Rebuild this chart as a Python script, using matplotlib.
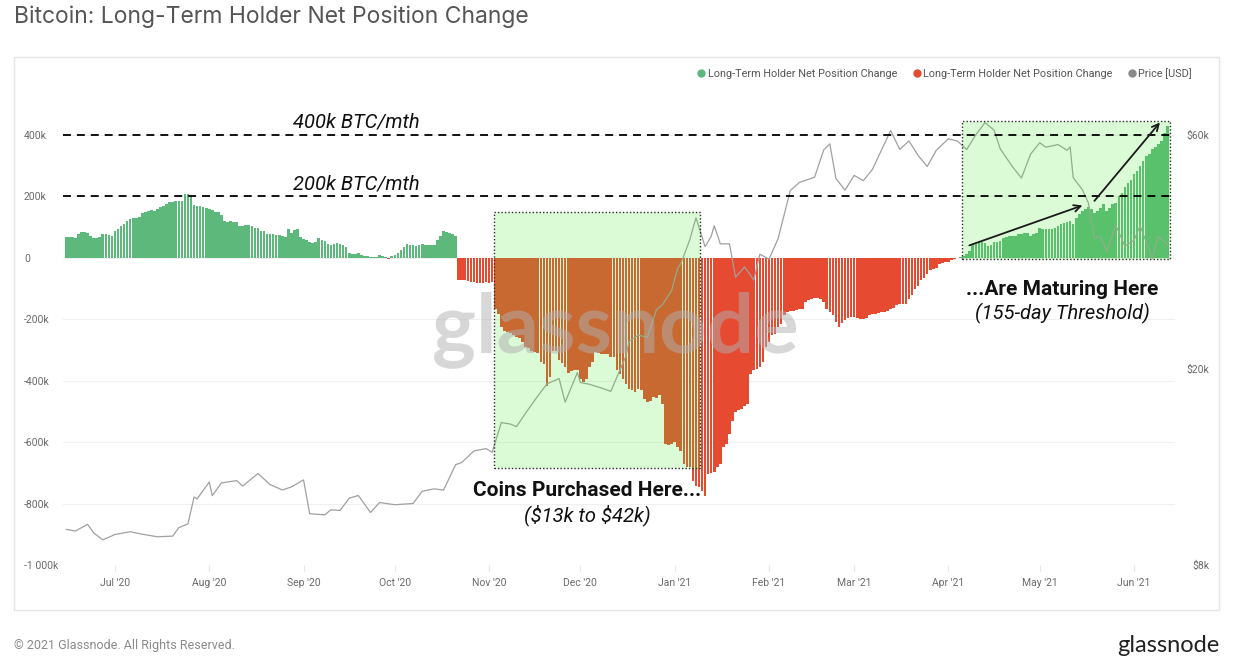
import datetime as dt
import math
import matplotlib
matplotlib.use('Agg')
import matplotlib.pyplot as plt
import matplotlib.dates as mdates
from matplotlib.patches import Rectangle
from matplotlib.lines import Line2D
from matplotlib.ticker import FixedLocator, NullLocator

# daily LTH net position change (k BTC), starting 2020-06-15
start = dt.datetime(2020, 6, 15)
lth_change = [
    67, 67, 66, 64, 76, 82, 82, 80, 72, 63,
    64, 66, 76, 76, 74, 72, 86, 94, 104, 110,
    120, 126, 128, 130, 134, 145, 148, 152, 154, 152,
    158, 166, 168, 176, 180, 182, 184, 186, 186, 206,
    206, 200, 170, 168, 168, 166, 162, 158, 154, 150,
    148, 140, 118, 117, 118, 116, 117, 104, 102, 106,
    106, 104, 98, 96, 88, 86, 78, 76, 78, 74,
    74, 70, 68, 92, 80, 90, 94, 66, 62, 58,
    50, 48, 50, 64, 56, 54, 44, 42, 46, 48,
    46, 40, 36, 14, 12, 12, 14, 10, 6, 5,
    3, 1, 2, 8, 6, 2, -5, 6, 10, 14,
    26, 36, 44, 42, 40, 38, 42, 46, 42, 40,
    40, 41, 56, 72, 86, 84, 80, 76, 72,
    # Oct 22 ->
    -72, -74, -74, -76, -78, -80, -82, -83, -82, -80, -82, -80,
    # Nov 3 ->
    -166, -182, -226, -237, -242, -245, -253, -258, -261, -275,
    -291, -293, -302, -307, -311, -340, -345, -416, -389, -302,
    -304, -334, -343, -356, -376, -369, -365, -365, -394, -405,
    -394, -356, -340, -307, -311, -313, -313, -315, -324, -324,
    -367, -378, -394, -410, -427, -432, -438, -427, -432, -459,
    -470, -465, -454, -456, -448, -476, -606, -611, -606, -600,
    -617, -628, -671, -682, -682, -725, -742, -747,
    # Jan 10 ->
    -758, -775, -704, -701, -698, -682, -671, -617, -606, -573,
    -530, -503, -495, -492, -481, -476, -378, -367, -362, -356,
    -340, -291, -275, -253, -248, -226, -215, -188, -177, -174,
    -172, -169, -166, -166, -144, -137, -134, -130, -130, -134,
    -144, -166, -177, -188, -210, -224, -212, -204, -195, -193,
    -193, -195, -199, -199, -195, -188, -182, -182, -180, -177,
    -177, -172, -166, -163, -155, -152, -152, -150, -134, -123,
    -101, -93, -74, -65, -52, -39, -36, -33, -22, -17,
    -15, -13, -9, -5, -2,
    # Apr 5 ->
    2, 5, 12, 22, 40, 46, 54, 50, 48, 38,
    42, 50, 52, 54, 65, 68, 71, 71, 72, 78,
    78, 81, 80, 71, 76, 80, 98, 94, 94, 92,
    94, 98, 102, 109, 114, 116, 119, 109, 130, 141,
    152, 157, 165, 160, 147, 152, 163, 174, 152, 163,
    176, 178, 201, 212, 230, 244, 252, 271, 282, 299,
    315, 330, 337, 353, 360, 369, 380, 407, 429,
]

price_dates = [
    '2020-06-15', '2020-06-18', '2020-06-22', '2020-06-24', '2020-06-27', '2020-07-01',
    '2020-07-06', '2020-07-10', '2020-07-15', '2020-07-20', '2020-07-22', '2020-07-25',
    '2020-07-27', '2020-07-28', '2020-08-01', '2020-08-02', '2020-08-05', '2020-08-10',
    '2020-08-12', '2020-08-17', '2020-08-21', '2020-08-25', '2020-08-28', '2020-09-01',
    '2020-09-03', '2020-09-05', '2020-09-08', '2020-09-10', '2020-09-13', '2020-09-16',
    '2020-09-19', '2020-09-23', '2020-09-26', '2020-10-01', '2020-10-07', '2020-10-10',
    '2020-10-14', '2020-10-17', '2020-10-21', '2020-10-23', '2020-10-27', '2020-10-31',
    '2020-11-02', '2020-11-05', '2020-11-08', '2020-11-10', '2020-11-13', '2020-11-17',
    '2020-11-20', '2020-11-24', '2020-11-26', '2020-11-30', '2020-12-01', '2020-12-04',
    '2020-12-08', '2020-12-11', '2020-12-16', '2020-12-17', '2020-12-20', '2020-12-23',
    '2020-12-26', '2020-12-28', '2020-12-31', '2021-01-02', '2021-01-03', '2021-01-06',
    '2021-01-08', '2021-01-11', '2021-01-13', '2021-01-14', '2021-01-16', '2021-01-19',
    '2021-01-21', '2021-01-24', '2021-01-27', '2021-01-29', '2021-02-01', '2021-02-04',
    '2021-02-08', '2021-02-11', '2021-02-14', '2021-02-16', '2021-02-19', '2021-02-21',
    '2021-02-23', '2021-02-26', '2021-03-01', '2021-03-04', '2021-03-07', '2021-03-10',
    '2021-03-13', '2021-03-16', '2021-03-19', '2021-03-22', '2021-03-25', '2021-03-28',
    '2021-04-01', '2021-04-04', '2021-04-07', '2021-04-10', '2021-04-13', '2021-04-16',
    '2021-04-18', '2021-04-22', '2021-04-25', '2021-04-28', '2021-05-01', '2021-05-03',
    '2021-05-07', '2021-05-10', '2021-05-11', '2021-05-12', '2021-05-15', '2021-05-17',
    '2021-05-19', '2021-05-21', '2021-05-23', '2021-05-26', '2021-05-29', '2021-06-01',
    '2021-06-03', '2021-06-07', '2021-06-09', '2021-06-12',
]
price_usd = [
    9450, 9380, 9680, 9300, 9000, 9230,
    9350, 9240, 9130, 9160, 9530, 9700,
    11000, 10900, 11800, 11070, 11750, 11880,
    11580, 12280, 11660, 11370, 11530, 11920,
    10170, 10150, 10120, 10360, 10330, 10940,
    11080, 10230, 10720, 10610, 10670, 11300,
    11430, 11360, 12800, 12930, 13650, 13800,
    13560, 15590, 15480, 15290, 16300, 17650,
    18680, 19160, 17150, 19700, 18800, 18650,
    18320, 18040, 21300, 22800, 23480, 23240,
    26440, 27080, 28950, 32130, 32780, 36760,
    40670, 35520, 37300, 39190, 36000, 36000,
    30800, 32300, 30400, 34300, 33500, 36900,
    46200, 48000, 48700, 49200, 55900, 57500,
    48900, 46300, 49600, 48400, 51000, 55900,
    61200, 56000, 58300, 54500, 51700, 55800,
    58900, 58200, 56000, 60000, 63500, 61300,
    56200, 51700, 49000, 54800, 57800, 56600,
    57300, 55800, 56700, 49100, 46400, 43600,
    37000, 37300, 34700, 39300, 35600, 36600,
    39200, 33600, 37300, 35800,
]

left_ticks = [400, 200, 0, -200, -400, -600, -800, -1000]
left_labels = ['400k', '200k', '0', '-200k', '-400k', '-600k', '-800k', '-1 000k']
right_ticks = [8000, 20000, 60000]
right_labels = ['$8k', '$20k', '$60k']
levels = [400, 200]
level_labels = ['400k BTC/mth', '200k BTC/mth']

GREEN = '#5cb97b'
RED = '#e64a31'
GREY = '#a0a0a0'
TXT = '#6b6b6b'

plt.rcParams['font.family'] = ['Roboto', 'DejaVu Sans']

fig = plt.figure(figsize=(12.39, 6.72), dpi=100)
fig.patch.set_facecolor('white')

# chart panel border
fig.add_artist(Rectangle((0.0113, 0.0923), 0.9726, 0.8229, transform=fig.transFigure,
                         fill=False, edgecolor='#e4e4e4', lw=1.0))

ax = fig.add_axes([0.0508, 0.1592, 0.8975, 0.686])
ax2 = ax.twinx()
ax.set_zorder(ax2.get_zorder() - 1)
ax2.patch.set_visible(False)

d0 = mdates.date2num(start)
xs = [d0 + i for i in range(len(lth_change))]
cols = [GREEN if v >= 0 else RED for v in lth_change]
ax.bar(xs, lth_change, width=0.86, color=cols, linewidth=0, zorder=2)

ax.set_ylim(-1000, 500)
ax.set_xlim(d0 - 1.1, d0 + 364.45)
ax.yaxis.set_major_locator(FixedLocator(left_ticks))
ax.set_yticklabels(left_labels)
for lab in ax.get_yticklabels():
    lab.set_horizontalalignment('left')
ax.tick_params(axis='y', length=0, pad=28, labelsize=7.5, labelcolor=TXT)
ax.grid(axis='y', color='#f0f0f0', lw=0.8, zorder=0)
ax.set_axisbelow(True)

ax.xaxis.set_major_locator(mdates.MonthLocator())
ax.xaxis.set_major_formatter(mdates.DateFormatter("%b '%y"))
ax.tick_params(axis='x', length=4, color='#e6e6e6', pad=5, labelsize=7.5, labelcolor=TXT)
for sp in ax.spines.values():
    sp.set_visible(False)
for sp in ax2.spines.values():
    sp.set_visible(False)

# price on log axis (8k aligned with -1000k, 60k with 400k)
lo, hi = math.log10(8000), math.log10(60000)
top = 10 ** (lo + (hi - lo) * 1500 / 1400)
ax2.set_yscale('log')
ax2.set_ylim(8000, top)
ax2.yaxis.set_major_locator(FixedLocator(right_ticks))
ax2.yaxis.set_minor_locator(NullLocator())
ax2.set_yticklabels(right_labels)
for lab in ax2.get_yticklabels():
    lab.set_horizontalalignment('right')
ax2.tick_params(axis='y', length=0, pad=25, labelsize=7.5, labelcolor=TXT)
pdates = [mdates.date2num(dt.datetime.strptime(s, '%Y-%m-%d')) for s in price_dates]
ax2.plot(pdates, price_usd, color=GREY, lw=0.9, zorder=3)


def tr(v):
    # left-axis value (k BTC) -> price-axis coordinate
    return 10 ** (lo + (hi - lo) * (v + 1000) / 1400)


# highlight boxes (drawn on the price axis so they cover bars and price)
box_fc = (0.3, 0.9, 0.2, 0.2)


def add_box(x0, x1, v0, v1):
    r = Rectangle((x0, tr(v0)), x1 - x0, tr(v1) - tr(v0),
                  facecolor=box_fc, edgecolor='#2b2b2b', lw=1.0,
                  linestyle=(0, (1, 1.5)), zorder=4)
    ax2.add_patch(r)


add_box(d0 + 140.6, d0 + 208.3, -684, 150)
add_box(d0 + 294.4, d0 + 362.8, -3, 446)

# dashed reference levels
for lv, txt in zip(levels, level_labels):
    ax2.plot([d0 - 1.1, d0 + 362.8], [tr(lv), tr(lv)], color='black', lw=1.3,
             ls=(0, (4.4, 3.3)), zorder=5)
    ax2.text(d0 + 95.2, tr(lv + 40), txt, fontsize=14.5, style='italic',
             ha='center', va='center', color='#111111', zorder=6)

ax2.text(d0 + 171.2, tr(-756), 'Coins Purchased Here...', fontsize=15, weight='bold',
         ha='center', va='center', color='#111111', zorder=6)
ax2.text(d0 + 171.2, tr(-837), r'(\$13k to \$42k)', fontsize=14.5, style='italic',
         ha='center', va='center', color='#111111', zorder=6)
ax2.text(d0 + 327.3, tr(-104), '...Are Maturing Here', fontsize=15, weight='bold',
         ha='center', va='center', color='#111111', zorder=6)
ax2.text(d0 + 327.3, tr(-182), '(155-day Threshold)', fontsize=14.5, style='italic',
         ha='center', va='center', color='#111111', zorder=6)

arr = dict(arrowstyle='->', color='#1a1a1a', lw=1.3, mutation_scale=12)
ax2.annotate('', xy=(d0 + 334.9, tr(173)), xytext=(d0 + 296.0, tr(37)),
             arrowprops=arr, zorder=6)
ax2.annotate('', xy=(d0 + 360.1, tr(447)), xytext=(d0 + 337.4, tr(178)),
             arrowprops=arr, zorder=6)

# watermark
fig.text(0.497, 0.509, 'glassnode', fontsize=60, color='#b0b0b0', alpha=0.5,
         ha='center', va='center', family='Lato', weight='bold', zorder=7)

# legend
handles = [Line2D([], [], marker='o', ls='', color=GREEN, markersize=5),
           Line2D([], [], marker='o', ls='', color=RED, markersize=5),
           Line2D([], [], marker='o', ls='', color='#8a8a8a', markersize=5)]
names = ['Long-Term Holder Net Position Change', 'Long-Term Holder Net Position Change',
         'Price [USD]']
leg = fig.legend(handles, names, loc='center right', bbox_to_anchor=(0.970, 0.891),
                 ncol=3, frameon=False, fontsize=7.8, handletextpad=0.1,
                 columnspacing=1.3, handlelength=1.0)
for t in leg.get_texts():
    t.set_color('#555555')

fig.text(0.0113, 0.975, 'Bitcoin: Long-Term Holder Net Position Change', fontsize=16.5,
         color='#555555', ha='left', va='center', family=['Inter', 'DejaVu Sans'])
fig.text(0.0113, 0.040, '\u00a9 2021 Glassnode. All Rights Reserved.', fontsize=9,
         color='#8a8a8a', ha='left', va='center')
fig.text(0.9839, 0.040, 'glassnode', fontsize=17, color='#222222', ha='right',
         va='center', family='Lato')

fig.savefig('out.png', dpi=100, facecolor='white')
